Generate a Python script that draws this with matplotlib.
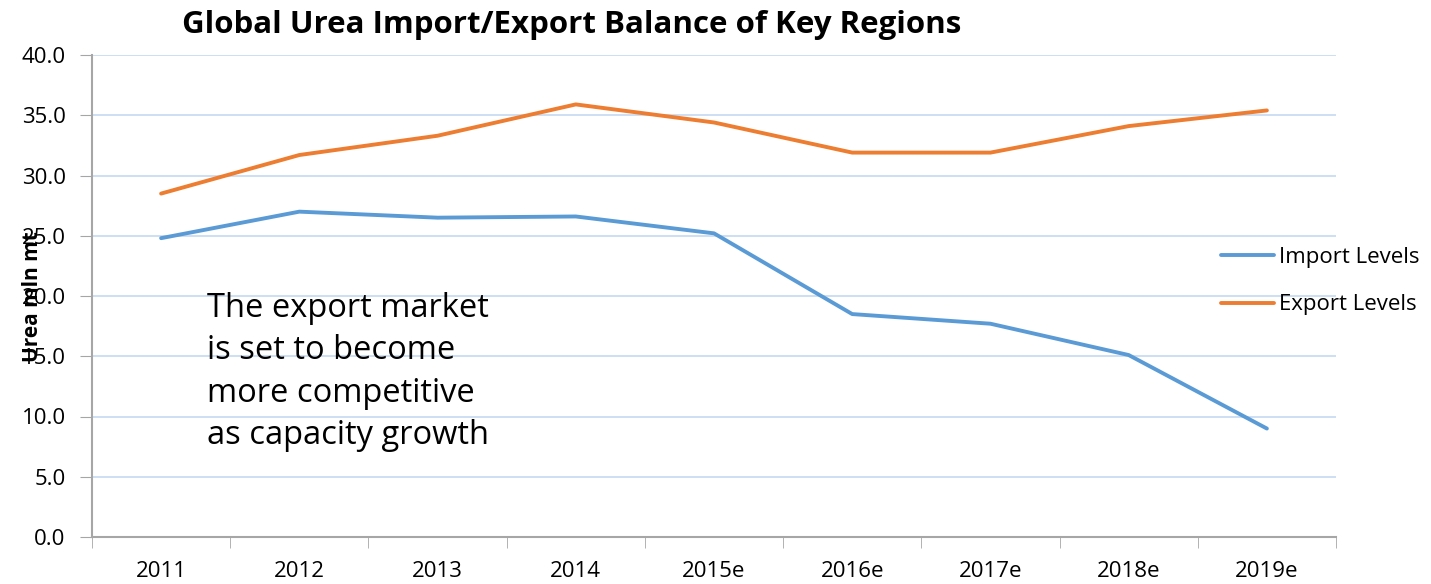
import matplotlib.pyplot as plt
import numpy as np

plt.rcParams['font.family'] = ['Open Sans', 'DejaVu Sans']

years = ["2011", "2012", "2013", "2014", "2015e", "2016e", "2017e", "2018e", "2019e"]
import_levels = [24.8, 27.0, 26.5, 26.6, 25.2, 18.5, 17.7, 15.1, 9.0]
export_levels = [28.5, 31.7, 33.3, 35.9, 34.4, 31.9, 31.9, 34.1, 35.4]

fig = plt.figure(figsize=(14.31, 5.84), dpi=100)
ax = fig.add_axes([92 / 1431, 47 / 584, 1244 / 1431, 482 / 584])

x = np.arange(len(years))
ax.plot(x, import_levels, color='#5B9BD5', lw=2.8, label='Import Levels', solid_capstyle='round')
ax.plot(x, export_levels, color='#ED7D31', lw=2.8, label='Export Levels', solid_capstyle='round')

ax.set_xlim(-0.5, len(years) - 0.5)
ax.set_ylim(0, 40)
ax.set_yticks(np.arange(0, 41, 5))
ax.set_yticklabels([f"{v:.1f}" for v in np.arange(0, 41, 5)], fontsize=16)
ax.set_xticks(x)
ax.set_xticklabels(years, fontsize=16)
ax.set_xticks(np.arange(-0.5, len(years)), minor=True)
ax.tick_params(axis='x', which='major', length=0, pad=17)
ax.tick_params(axis='x', which='minor', length=8, color='#A6A6A6')
ax.tick_params(axis='y', length=9, color='#A6A6A6', pad=10)

ax.grid(axis='y', color='#C6D9F1', lw=1.2)
ax.set_axisbelow(True)
for s in ['top', 'right']:
    ax.spines[s].set_visible(False)
ax.spines['left'].set_color('#A6A6A6')
ax.spines['bottom'].set_color('#A6A6A6')
ax.spines['left'].set_linewidth(1.5)
ax.spines['bottom'].set_linewidth(1.5)

fig.text(572 / 1431, 1 - 25 / 584, "Global Urea Import/Export Balance of Key Regions",
         fontsize=22.5, fontweight='bold', ha='center', va='center')
fig.text(33 / 1431, 1 - 297 / 584, "Urea mln mt", rotation=90, fontsize=15,
         fontweight='bold', ha='center', va='center')

ax.text(207 / 1431, 1 - 372 / 584, "The export market\nis set to become\nmore competitive\nas capacity growth",
        transform=fig.transFigure, fontsize=23.5, ha='left', va='center', linespacing=1.38)

ax.legend(loc='center left', bbox_to_anchor=(1201 / 1431, 1 - 281 / 584),
          bbox_transform=fig.transFigure, frameon=False, fontsize=16,
          handlelength=2.4, handletextpad=0.2, labelspacing=1.2)

fig.savefig("out.png", dpi=100)
